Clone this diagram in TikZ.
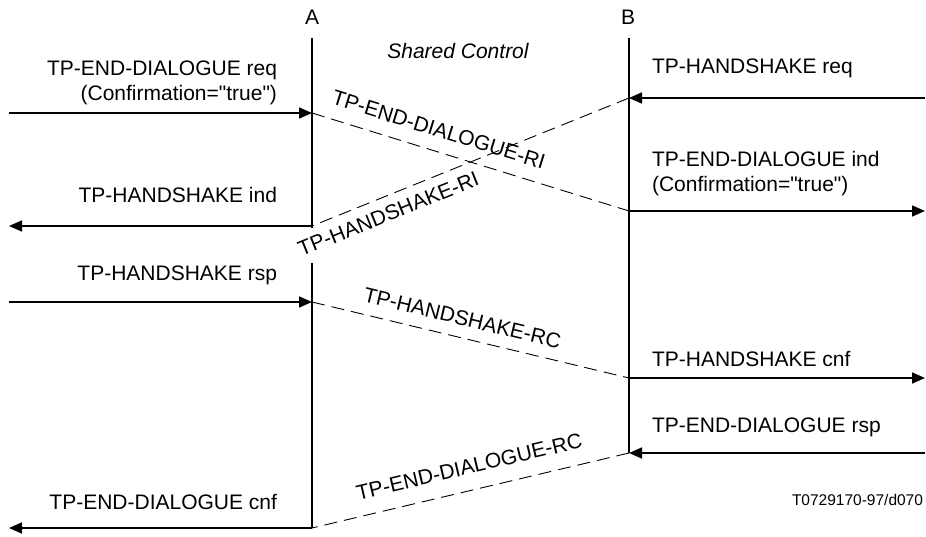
\documentclass[tikz,border=0pt]{standalone}
\usepackage{fontspec}
\setmainfont{Liberation Sans}[Ligatures=TeXOff]
\usetikzlibrary{arrows.meta}
\tikzset{
  life/.style={line width=1.8pt},
  arr/.style={line width=1.7pt, -{Triangle[length=13pt,width=11pt]}},
  dline/.style={line width=0.9pt, dash pattern=on 13pt off 7pt},
  lbl/.style={inner sep=0pt, outer sep=0pt},
  rl/.style={sloped, inner sep=0pt},
}
\begin{document}
\begin{tikzpicture}[x=1pt,y=-1pt,font=\fontsize{21}{25}\selectfont]
\useasboundingbox (0,0) rectangle (926,537);
% lifeline coordinates
\coordinate (At) at (312,38);
\coordinate (A1) at (312,113);
\coordinate (A2) at (312,226);
\coordinate (Ag) at (312,228);
\coordinate (A3) at (312,263);
\coordinate (A4) at (312,302);
\coordinate (A5) at (312,528);
\coordinate (Bt) at (629,38);
\coordinate (B1) at (629,98);
\coordinate (B2) at (629,211);
\coordinate (B3) at (629,378);
\coordinate (B4) at (629,453);
% free ends
\coordinate (L1) at (9,113);
\coordinate (L2) at (9,226);
\coordinate (L4) at (9,302);
\coordinate (L5) at (9,528);
\coordinate (R1) at (925,98);
\coordinate (R2) at (925,211);
\coordinate (R3) at (925,378);
\coordinate (R4) at (925,453);
% lifelines
\draw[life] (At) -- (Ag);
\draw[life] (A3) -- (A5);
\draw[life] (Bt) -- (B4);
% headings
\node[lbl, anchor=base] (labA) at (312,25) {A};
\node[lbl, anchor=base] (labB) at (628,25) {B};
\node[lbl, anchor=base] (shared) at (458,58.3) {\itshape Shared Control};
% primitives at A
\draw[arr] (L1) -- (A1);
\draw[arr] (A2) -- (L2);
\draw[arr] (L4) -- (A4);
\draw[arr] (A5) -- (L5);
\node[lbl, anchor=north east, align=right] (t1) at (277,60.5) {TP-END-DIALOGUE req\\(Confirmation="true")};
\node[lbl, anchor=base east] (t2) at (277,203) {TP-HANDSHAKE ind};
\node[lbl, anchor=base east] (t3) at (277,280) {TP-HANDSHAKE rsp};
\node[lbl, anchor=base east] (t4) at (277,509) {TP-END-DIALOGUE cnf};
% primitives at B
\draw[arr] (R1) -- (B1);
\draw[arr] (B2) -- (R2);
\draw[arr] (B3) -- (R3);
\draw[arr] (R4) -- (B4);
\node[lbl, anchor=base west] (u1) at (652,73.3) {TP-HANDSHAKE req};
\node[lbl, anchor=north west, align=left] (u2) at (652,151.7) {TP-END-DIALOGUE ind\\(Confirmation="true")};
\node[lbl, anchor=base west] (u3) at (652,366.7) {TP-HANDSHAKE cnf};
\node[lbl, anchor=base west] (u4) at (652,432.7) {TP-END-DIALOGUE rsp};
% protocol data units
\draw[dline] (A1) -- node[rl, pos=0.38, anchor=south, outer sep=14pt] (p1) {TP-END-DIALOGUE-RI} (B2);
\draw[dline] (B1) -- node[rl, pos=0.78, anchor=north, outer sep=10pt] (p2) {TP-HANDSHAKE-RI} (A2);
\draw[dline] (A4) -- node[rl, pos=0.46, anchor=south, outer sep=12pt] (p3) {TP-HANDSHAKE-RC} (B3);
\draw[dline] (B4) -- node[rl, pos=0.487, anchor=south, outer sep=16pt] (p4) {TP-END-DIALOGUE-RC} (A5);
% figure code
\node[lbl, anchor=base east, font=\fontsize{15.5}{18}\selectfont] (code) at (923,505) {T0729170-97/d070};
\end{tikzpicture}
\end{document}
